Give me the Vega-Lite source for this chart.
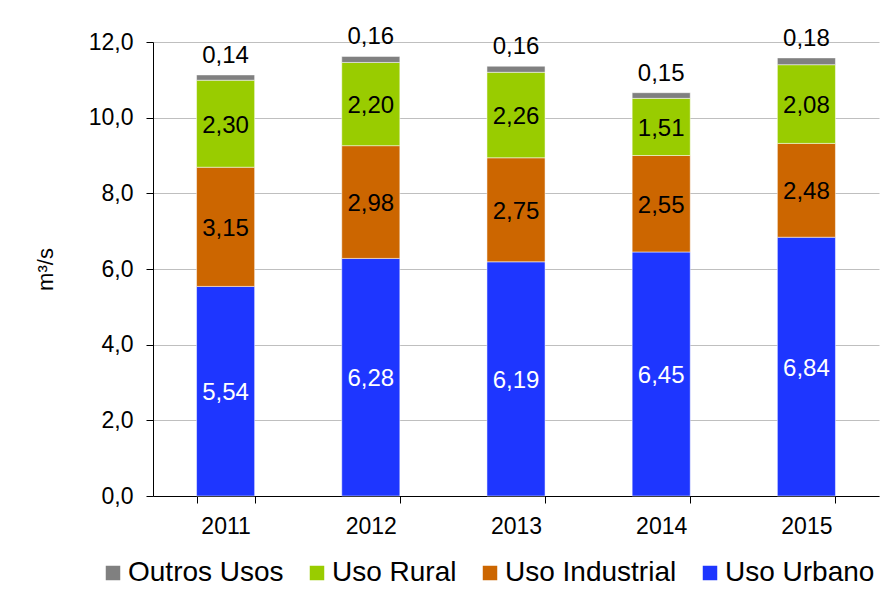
{
  "$schema": "https://vega.github.io/schema/vega-lite/v6.json",
  "width": 726,
  "height": 454,
  "autosize": {"type": "none"},
  "padding": {"left": 153, "top": 42, "right": 2, "bottom": 97},
  "background": "white",
  "config": {
    "locale": {"number": {"decimal": ",", "thousands": ".", "grouping": [3], "currency": ["R$", ""]}},
    "font": "Liberation Sans",
    "view": {"stroke": null}
  },
  "data": {
    "values": [
      {"ano": "2011", "uso": "Uso Urbano", "valor": 5.54},
      {"ano": "2011", "uso": "Uso Industrial", "valor": 3.15},
      {"ano": "2011", "uso": "Uso Rural", "valor": 2.30},
      {"ano": "2011", "uso": "Outros Usos", "valor": 0.14},
      {"ano": "2012", "uso": "Uso Urbano", "valor": 6.28},
      {"ano": "2012", "uso": "Uso Industrial", "valor": 2.98},
      {"ano": "2012", "uso": "Uso Rural", "valor": 2.20},
      {"ano": "2012", "uso": "Outros Usos", "valor": 0.16},
      {"ano": "2013", "uso": "Uso Urbano", "valor": 6.19},
      {"ano": "2013", "uso": "Uso Industrial", "valor": 2.75},
      {"ano": "2013", "uso": "Uso Rural", "valor": 2.26},
      {"ano": "2013", "uso": "Outros Usos", "valor": 0.16},
      {"ano": "2014", "uso": "Uso Urbano", "valor": 6.45},
      {"ano": "2014", "uso": "Uso Industrial", "valor": 2.55},
      {"ano": "2014", "uso": "Uso Rural", "valor": 1.51},
      {"ano": "2014", "uso": "Outros Usos", "valor": 0.15},
      {"ano": "2015", "uso": "Uso Urbano", "valor": 6.84},
      {"ano": "2015", "uso": "Uso Industrial", "valor": 2.48},
      {"ano": "2015", "uso": "Uso Rural", "valor": 2.08},
      {"ano": "2015", "uso": "Outros Usos", "valor": 0.18}
    ]
  },
  "transform": [
    {"calculate": "indexof(['Uso Urbano','Uso Industrial','Uso Rural','Outros Usos'], datum.uso)", "as": "ordem"},
    {"stack": "valor", "groupby": ["ano"], "sort": [{"field": "ordem", "order": "ascending"}], "as": ["y0", "y1"]},
    {"calculate": "(datum.y0 + datum.y1) / 2", "as": "ymid"}
  ],
  "encoding": {
    "x": {
      "field": "ano", "type": "nominal",
      "scale": {"paddingInner": 0.6, "paddingOuter": 0.3},
      "axis": {
        "title": null, "labelAngle": 0, "labelFontSize": 23, "labelColor": "black",
        "domainColor": "black", "tickColor": "black", "tickBand": "extent",
        "tickSize": 7, "labelPadding": 12
      }
    }
  },
  "layer": [
    {
      "mark": {"type": "bar", "stroke": "white", "strokeWidth": 0.5},
      "encoding": {
        "y": {
          "field": "y0", "type": "quantitative",
          "scale": {"domain": [0, 12]},
          "axis": {
            "title": "m³/s", "titleFontSize": 22, "titleFontWeight": "normal", "titleColor": "black",
            "titleX": -108, "titleY": 227, "titleAngle": -90, "titleBaseline": "middle", "titleAlign": "center",
            "values": [0, 2, 4, 6, 8, 10, 12], "format": ".1f",
            "labelFontSize": 23, "labelColor": "black", "labelPadding": 13,
            "domainColor": "black", "tickColor": "black", "tickSize": 7,
            "gridColor": "#BFBFBF", "grid": true
          }
        },
        "y2": {"field": "y1"},
        "color": {
          "field": "uso", "type": "nominal",
          "scale": {
            "domain": ["Outros Usos", "Uso Rural", "Uso Industrial", "Uso Urbano"],
            "range": ["#808080", "#99CC00", "#CC6600", "#1E36FF"]
          },
          "legend": {
            "title": null, "orient": "none", "direction": "horizontal",
            "legendX": -54, "legendY": 517,
            "labelFontSize": 28, "labelColor": "black", "symbolType": "square",
            "symbolSize": 210, "symbolStrokeWidth": 0, "labelOffset": 1,
            "columnPadding": 19, "labelLimit": 300
          }
        }
      }
    },
    {
      "transform": [{"filter": "datum.uso != 'Outros Usos'"}],
      "mark": {"type": "text", "fontSize": 24, "baseline": "middle", "dy": 2},
      "encoding": {
        "y": {"field": "ymid", "type": "quantitative"},
        "text": {"field": "valor", "type": "quantitative", "format": ".2f"},
        "color": {
          "condition": {"test": "datum.uso == 'Uso Urbano'", "value": "white"},
          "value": "black"
        }
      }
    },
    {
      "transform": [{"filter": "datum.uso == 'Outros Usos'"}],
      "mark": {"type": "text", "fontSize": 24, "baseline": "alphabetic", "dy": -12, "color": "black"},
      "encoding": {
        "y": {"field": "y1", "type": "quantitative"},
        "text": {"field": "valor", "type": "quantitative", "format": ".2f"}
      }
    }
  ]
}
